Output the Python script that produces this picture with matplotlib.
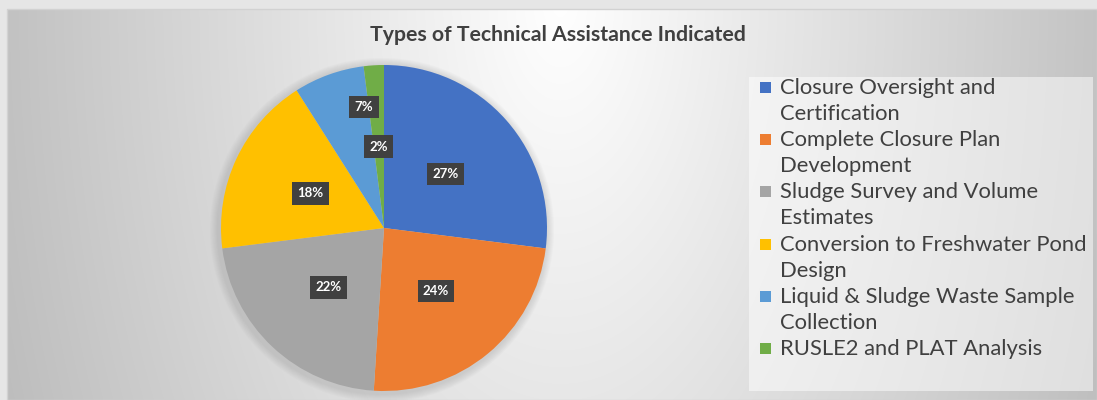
import numpy as np
import matplotlib.pyplot as plt
from matplotlib.patches import Rectangle, Circle

# data
categories = ["Closure Oversight and\nCertification",
              "Complete Closure Plan\nDevelopment",
              "Sludge Survey and Volume\nEstimates",
              "Conversion to Freshwater Pond\nDesign",
              "Liquid & Sludge Waste Sample\nCollection",
              "RUSLE2 and PLAT Analysis"]
values = [27, 24, 22, 18, 7, 2]
colors = ["#4472c4", "#ed7d31", "#a5a5a5", "#ffc000", "#5b9bd5", "#70ad47"]
title = "Types of Technical Assistance Indicated"

W, H = 1097, 400
fig = plt.figure(figsize=(W / 100, H / 100), dpi=100)
fig.patch.set_facecolor("#e6e6e6")

# background gradient of the chart area (pixel coordinates)
bg = fig.add_axes([0, 0, 1, 1], zorder=0)
bg.set_xlim(0, W)
bg.set_ylim(H, 0)
bg.axis("off")
xx, yy = np.meshgrid(np.arange(7, W), np.arange(9, H))
d = np.sqrt(((xx - 560) / 650.0) ** 2 + (yy / 1200.0) ** 2)
g = np.clip(255 - 72 * d, 185, 255) / 255.0
bg.imshow(np.dstack([g, g, g]), extent=(7, W, H, 9), aspect="auto", interpolation="bilinear")
bg.add_patch(Rectangle((7, 9), W - 7, H - 9, fill=False, edgecolor="#d2d2d2", lw=1))

# legend box
bg.add_patch(Rectangle((749, 77), 344, 314, facecolor="white", alpha=0.5, edgecolor="none"))

# soft shadow behind the pie
cx, cy, r = 384, 228, 163
for k in range(8):
    bg.add_patch(Circle((cx - 2, cy + 2), r + 9 - k, facecolor="#909090", alpha=0.04, edgecolor="none"))

bg.text(558, 35, title, ha="center", va="center", fontsize=15.3,
        fontweight="bold", color="#404040", family="Lato")

# legend entries, each wrapped over two lines
for i, (lab, c) in enumerate(zip(categories, colors)):
    y0 = 88 + 52.2 * i
    bg.add_patch(Rectangle((760, y0 - 6), 11, 11, facecolor=c, edgecolor="none"))
    for j, line in enumerate(lab.split("\n")):
        bg.text(780, y0 + 26 * j, line, ha="left", va="center", fontsize=15.8,
                color="#404040", family="Lato")

# pie
ax = fig.add_axes([(cx - r) / W, (H - cy - r) / H, 2 * r / W, 2 * r / H], zorder=2)
wedges, texts, autotexts = ax.pie(values, colors=colors, startangle=90, counterclock=False,
                                  autopct="%1.0f%%", pctdistance=0.5,
                                  textprops=dict(color="white", fontsize=9.5, fontweight="bold",
                                                 family="Lato"))
for t in autotexts:
    t.set_bbox(dict(boxstyle="square,pad=0.4", facecolor="#404040", edgecolor="none"))
# the small 7% label is pushed outward
autotexts[4].set_position((-20 / r, 121 / r))
ax.set_xlim(-1, 1)
ax.set_ylim(-1, 1)

fig.savefig("out.png", dpi=100, facecolor=fig.get_facecolor())
